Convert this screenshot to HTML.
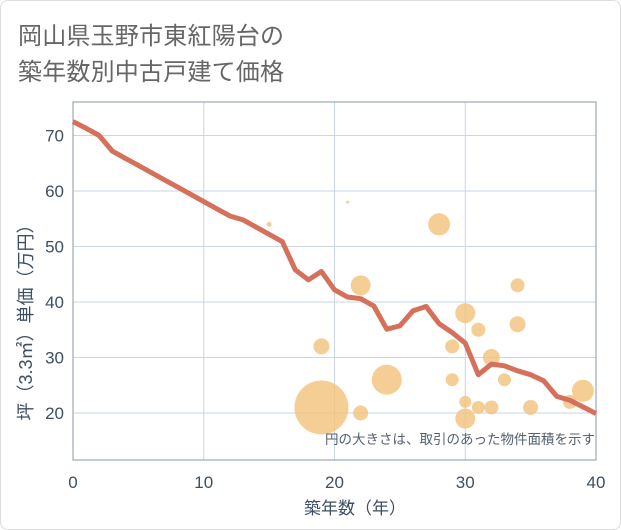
<!DOCTYPE html>
<html><head><meta charset="utf-8"><style>
body{margin:0;background:#fff;}
#wrap{position:relative;width:619px;height:528px;border:1px solid #ddd;border-radius:8px;background:#fff;overflow:hidden;font-family:"Liberation Sans","Noto Sans CJK JP",sans-serif;}
.title{position:absolute;left:17px;font-size:24px;color:#666;letter-spacing:0.2px;white-space:nowrap;}
</style></head><body>
<div id="wrap">
<div class="title" style="top:15px">岡山県玉野市東紅陽台の</div>
<div class="title" style="top:51px">築年数別中古戸建て価格</div>
<svg id="chart" width="621" height="530" style="position:absolute;left:-1px;top:-1px"></svg>
</div>
<script>
const lineYears=[0,1,2,3,4,5,6,7,8,9,10,11,12,13,14,15,16,17,18,19,20,21,22,23,24,25,26,27,28,29,30,31,32,33,34,35,36,37,38,39,40];
const lineValues=[72.5,71.3,70,67.2,65.9,64.6,63.3,62,60.7,59.4,58.1,56.8,55.5,54.8,53.5,52.2,50.9,45.8,44,45.5,42.2,40.9,40.6,39.3,35.1,35.7,38.4,39.2,36.1,34.5,32.6,26.9,28.8,28.5,27.6,26.9,25.8,23,22.3,21.1,19.9];
const bubbleYears=[15,21,19,19,22,22,24,28,29,29,30,30,30,31,31,32,32,33,34,34,35,38,39];
const bubbleValues=[54,58,32,21,43,20,26,54,32,26,38,22,19,35,21,30,21,26,43,36,21,22,24];
const bubbleSizes=[2.5,1.5,8,27,10,7.5,15,11,7,6.5,10,6,10,7,6.5,8.5,7,6.5,7,8,7.5,7,11];
const xTicks=[0,10,20,30,40];
const yTicks=[20,30,40,50,60,70];
const NS="http://www.w3.org/2000/svg";
const svg=document.getElementById('chart');
const L=73,R=596,T=102,B=460;
const X=v=>L+(v-0)/40*(R-L);
const Y=v=>413-(v-20)*5.55;
function mk(tag,attrs,parent){const e=document.createElementNS(NS,tag);for(const k in attrs)e.setAttribute(k,attrs[k]);(parent||svg).appendChild(e);return e;}
xTicks.forEach(t=>{
 const g=mk('line',{x1:X(t),x2:X(t),y1:T,y2:B,stroke:'#c8d6e6','stroke-width':1});
 
 
 const tx=mk('text',{x:X(t),y:488,'text-anchor':'middle','font-size':17,fill:'#3d4f63','font-family':'Liberation Sans, sans-serif'});
 tx.textContent=t;
 
 
});
yTicks.forEach(t=>{
 const g=mk('line',{x1:L,x2:R,y1:Y(t),y2:Y(t),stroke:'#c8d6e6','stroke-width':1});
 
 
 const tx=mk('text',{x:64,y:Y(t)+6,'text-anchor':'end','font-size':17,fill:'#3d4f63','font-family':'Liberation Sans, sans-serif'});
 tx.textContent=t;
 
 
});
const frame=mk('rect',{x:L,y:T,width:R-L,height:B-T,fill:'none',stroke:'#8a97a6','stroke-width':1});


bubbleYears.forEach((yr,i)=>{
 const c=mk('circle',{cx:X(yr),cy:Y(bubbleValues[i]),r:bubbleSizes[i],fill:'#f3c27a','fill-opacity':0.8});
 
 
});
const pts=lineYears.map((yr,i)=>X(yr)+','+Y(lineValues[i])).join(' ');
const pl=mk('polyline',{points:pts,fill:'none',stroke:'#d5705a','stroke-width':5,'stroke-linejoin':'round'});


const note=mk('text',{x:595,y:444,'text-anchor':'end','font-size':13.5,fill:'#556070','font-family':'Liberation Sans, Noto Sans CJK JP, sans-serif'});
note.textContent='円の大きさは、取引のあった物件面積を示す';


const xt=mk('text',{x:355,y:514,'text-anchor':'middle','font-size':17,fill:'#3d4f63','font-family':'Liberation Sans, Noto Sans CJK JP, sans-serif'});
xt.textContent='築年数（年）';


const yt=mk('text',{x:0,y:0,'text-anchor':'middle','font-size':18,fill:'#3d4f63',transform:'translate(32,318) rotate(-90)','font-family':'Liberation Sans, Noto Sans CJK JP, sans-serif'});
yt.textContent='坪（3.3㎡）単価（万円）';


</script>
</body></html>
